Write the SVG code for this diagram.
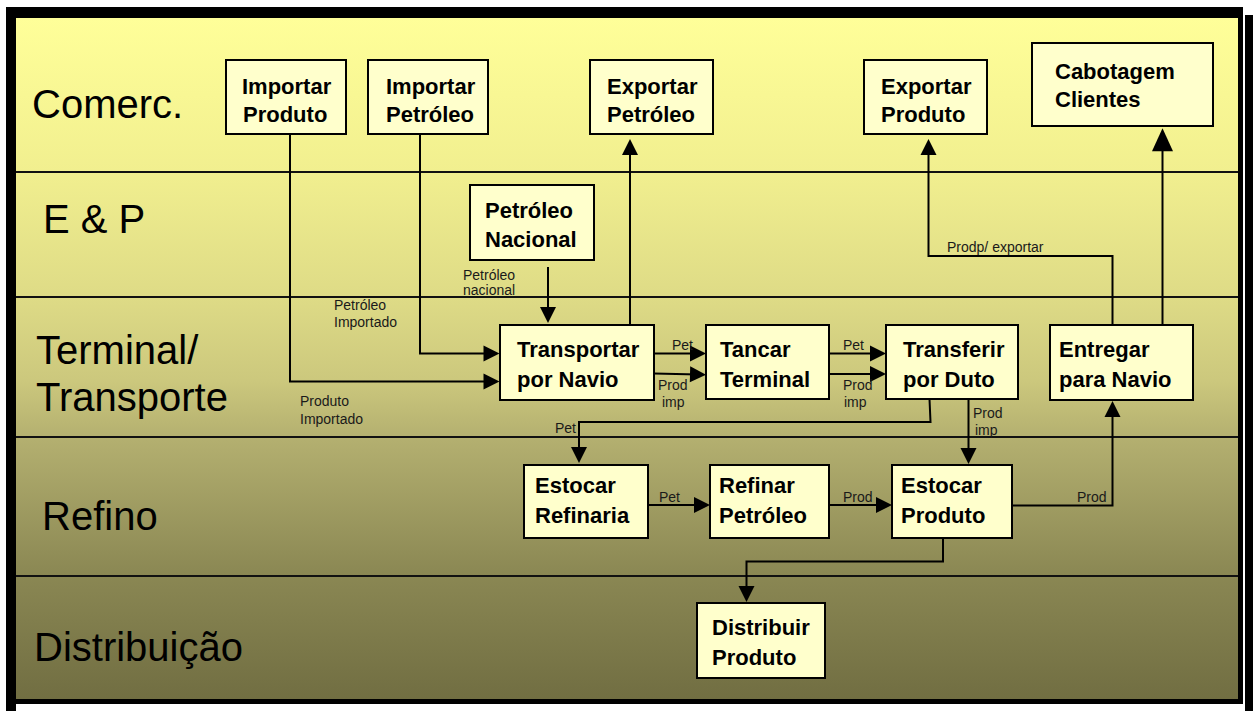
<svg xmlns="http://www.w3.org/2000/svg" width="1253" height="711" viewBox="0 0 1253 711">
<defs>
<linearGradient id="bg" x1="0" y1="0" x2="0" y2="1">
<stop offset="0" stop-color="#FFFF99"/>
<stop offset="0.226" stop-color="#F1EF8F"/>
<stop offset="0.41" stop-color="#DEDB86"/>
<stop offset="0.532" stop-color="#CCC87D"/>
<stop offset="0.615" stop-color="#B4B070"/>
<stop offset="0.819" stop-color="#8A8753"/>
<stop offset="1" stop-color="#716E42"/>
</linearGradient>
<marker id="a" markerUnits="userSpaceOnUse" markerWidth="16" markerHeight="16" refX="8" refY="8" orient="auto" overflow="visible">
<path d="M0,0 L16,8 L0,16 Z" fill="#000"/>
</marker>
<marker id="b" markerUnits="userSpaceOnUse" markerWidth="24" markerHeight="22" refX="11.5" refY="10.5" orient="auto" overflow="visible">
<path d="M0,0 L23,10.5 L0,21 Z" fill="#000"/>
</marker>
</defs>
<style>
.lane{fill:#000;font-family:"Liberation Sans",Arial,sans-serif;font-size:40px}
.lline{stroke:#111;stroke-width:2}
.box{fill:#FFFFCC;stroke:#000;stroke-width:2}
.nt{fill:#000;font-family:"Liberation Sans",Arial,sans-serif;font-size:22px;font-weight:bold}
.c{fill:none;stroke:#000;stroke-width:2;marker-end:url(#a)}
.cn{fill:none;stroke:#000;stroke-width:2}
.lb{fill:#1a1a1a;font-family:"Liberation Sans",Arial,sans-serif;font-size:14px}
</style>
<rect width="1253" height="711" fill="#fff"/>
<g id="frame">
<rect x="6" y="7" width="1237" height="697" fill="#000"/>
<rect x="16" y="18" width="1222" height="681" fill="url(#bg)"/>
<rect x="6" y="700" width="10" height="11" fill="#000"/>
<rect x="1245" y="15" width="8" height="696" fill="#000"/>
</g>
<g id="lanes">
<line class="lline" x1="16" y1="172" x2="1238" y2="172"/>
<line class="lline" x1="16" y1="297" x2="1238" y2="297"/>
<line class="lline" x1="16" y1="437" x2="1238" y2="437"/>
<line class="lline" x1="16" y1="576" x2="1238" y2="576"/>
<text class="lane" x="32" y="118">Comerc.</text>
<text class="lane" x="43" y="233">E &amp; P</text>
<text class="lane" x="36" y="364">Terminal/</text>
<text class="lane" x="36" y="411">Transporte</text>
<text class="lane" x="42" y="530">Refino</text>
<text class="lane" x="34" y="661">Distribuição</text>
</g>
<g id="connectors">
<path class="c" d="M290,134 V381.5 H491.5"/>
<path class="c" d="M420,134 V353.5 H491.5"/>
<path class="c" d="M548,267 V315"/>
<path class="c" d="M630,325 V147"/>
<path class="c" d="M654,353.5 H698"/>
<path class="c" d="M654,373.5 L698,374.5"/>
<path class="c" d="M829,353.5 H878"/>
<path class="c" d="M829,374 H878"/>
<path class="c" d="M929.5,399 L930.5,422 H579 V455"/>
<path class="c" d="M968.5,399 V456"/>
<path class="c" d="M648,505 H702"/>
<path class="c" d="M829,505 H884"/>
<path class="c" d="M1012,505.5 H1112.5 V409"/>
<path class="c" d="M943,538 V561.5 H746.5 V594"/>
<path class="c" d="M1112.5,325 V256 H928.5 V147"/>
<path class="cn" d="M1162.5,325 V139.8" marker-end="url(#b)"/>
<text class="lb" x="463" y="280">Petróleo</text>
<text class="lb" x="463" y="295">nacional</text>
<text class="lb" x="334" y="310">Petróleo</text>
<text class="lb" x="334" y="327">Importado</text>
<text class="lb" x="300" y="406">Produto</text>
<text class="lb" x="300" y="424">Importado</text>
<text class="lb" x="672" y="349.5">Pet</text>
<text class="lb" x="658" y="390">Prod</text>
<text class="lb" x="662" y="407">imp</text>
<text class="lb" x="843" y="349.5">Pet</text>
<text class="lb" x="843" y="390">Prod</text>
<text class="lb" x="844" y="407">imp</text>
<text class="lb" x="973" y="418">Prod</text>
<text class="lb" x="975" y="435">imp</text>
<text class="lb" x="555" y="433">Pet</text>
<text class="lb" x="659" y="501.5">Pet</text>
<text class="lb" x="843" y="501.5">Prod</text>
<text class="lb" x="1077" y="501.5">Prod</text>
<text class="lb" x="947" y="252">Prodp/ exportar</text>
</g>
<g id="importar-produto"><rect class="box" x="226" y="60" width="120" height="74"/><text class="nt" x="242" y="94">Importar</text><text class="nt" x="243" y="122">Produto</text></g>
<g id="importar-petroleo"><rect class="box" x="368" y="60" width="120" height="74"/><text class="nt" x="386" y="94">Importar</text><text class="nt" x="386" y="122">Petróleo</text></g>
<g id="exportar-petroleo"><rect class="box" x="590" y="60" width="123" height="74"/><text class="nt" x="607" y="94">Exportar</text><text class="nt" x="607" y="122">Petróleo</text></g>
<g id="exportar-produto"><rect class="box" x="864" y="60" width="123" height="74"/><text class="nt" x="881" y="94">Exportar</text><text class="nt" x="881" y="122">Produto</text></g>
<g id="cabotagem-clientes"><rect class="box" x="1032" y="43" width="181" height="83"/><text class="nt" x="1055" y="79">Cabotagem</text><text class="nt" x="1055" y="107">Clientes</text></g>
<g id="petroleo-nacional"><rect class="box" x="470" y="185" width="124" height="75"/><text class="nt" x="485" y="218">Petróleo</text><text class="nt" x="485" y="247">Nacional</text></g>
<g id="transportar-navio"><rect class="box" x="500" y="325" width="154" height="75"/><text class="nt" x="517" y="357">Transportar</text><text class="nt" x="517" y="387">por Navio</text></g>
<g id="tancar-terminal"><rect class="box" x="706" y="325" width="123" height="74"/><text class="nt" x="720" y="357">Tancar</text><text class="nt" x="720" y="387">Terminal</text></g>
<g id="transferir-duto"><rect class="box" x="886" y="325" width="132" height="74"/><text class="nt" x="903" y="357">Transferir</text><text class="nt" x="903" y="387">por Duto</text></g>
<g id="entregar-navio"><rect class="box" x="1050" y="325" width="143" height="75"/><text class="nt" x="1059" y="357">Entregar</text><text class="nt" x="1059" y="387">para Navio</text></g>
<g id="estocar-refinaria"><rect class="box" x="524" y="465" width="124" height="73"/><text class="nt" x="535" y="493">Estocar</text><text class="nt" x="535" y="523">Refinaria</text></g>
<g id="refinar-petroleo"><rect class="box" x="710" y="465" width="119" height="73"/><text class="nt" x="719" y="493">Refinar</text><text class="nt" x="719" y="523">Petróleo</text></g>
<g id="estocar-produto"><rect class="box" x="892" y="465" width="120" height="73"/><text class="nt" x="901" y="493">Estocar</text><text class="nt" x="901" y="523">Produto</text></g>
<g id="distribuir-produto"><rect class="box" x="697" y="603" width="128" height="75"/><text class="nt" x="712" y="635">Distribuir</text><text class="nt" x="712" y="665">Produto</text></g>
</svg>
